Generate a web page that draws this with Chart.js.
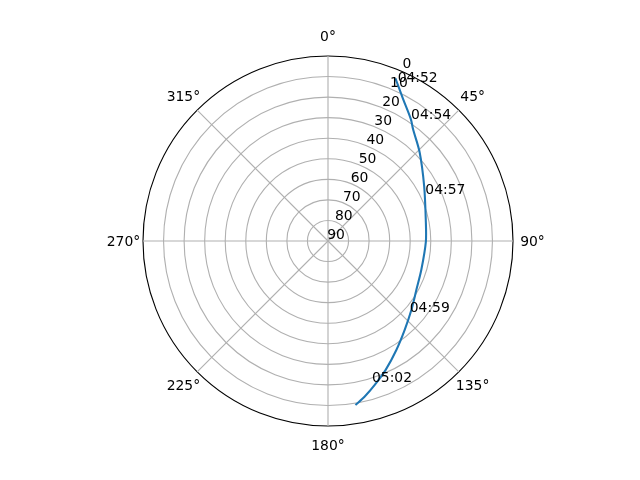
<!DOCTYPE html>
<html>
<head>
<meta charset="utf-8">
<script src="https://cdn.jsdelivr.net/npm/chart.js@4.4.1/dist/chart.umd.min.js"></script>
<style>
    html, body { margin: 0; padding: 0; background: #ffffff; }
    canvas { display: block; }
</style>
</head>
<body>
<canvas id="chartPasada" width="640" height="480"></canvas>
<script>
// rumbos del eje angular (N arriba, sentido horario)
const rumbos = ["0°", "45°", "90°", "135°", "180°", "225°", "270°", "315°"];

// trayectoria: azimut y elevación en grados
const azimut = [22.5, 27.9, 34.2, 37.3, 46.0, 60.2, 77.6, 90.5, 107.0, 118.8, 129.5, 139.2, 147.8, 155.9, 162.0, 166.8, 170.5];
const elevacion = [4.3, 11.9, 18.3, 21.7, 28.0, 36.1, 41.3, 42.4, 42.5, 40.9, 37.4, 32.9, 27.5, 21.3, 16.4, 12.2, 9.1];

// marcas de hora sobre la pasada
const horas = ["04:52", "04:54", "04:57", "04:59", "05:02"];
const horasAzimut = [23.7, 34.3, 64.4, 131.0, 162.7];
const horasElevacion = [5.7, 18.3, 37.5, 37.3, 18.1];

const FUENTE = '13.9px "DejaVu Sans"';

function aCartesiano(az, el) {
    const rad = az * Math.PI / 180;
    return { x: (90 - el) * Math.sin(rad), y: (90 - el) * Math.cos(rad) };
}

const etiquetasPolares = {
    id: "etiquetasPolares",
    afterDatasetsDraw(chart) {
        const ctx = chart.ctx;
        const r = chart.scales.r;
        const porPaso = 360 / rumbos.length;

        ctx.save();
        ctx.font = FUENTE;
        ctx.fillStyle = "#000000";
        ctx.textAlign = "center";
        ctx.textBaseline = "middle";

        rumbos.forEach((txt, i) => {
            const p = r.getPointPosition(i, r.drawingArea + 19.5);
            ctx.fillText(txt, p.x, p.y + 1);
        });

        // etiquetas radiales a 22.5°
        r.ticks.forEach(t => {
            const p = r.getPointPosition(22.5 / porPaso, r.getDistanceFromCenterForValue(t.value));
            ctx.fillText(t.label, p.x + 8, p.y - 6);
        });

        ctx.textAlign = "left";
        ctx.textBaseline = "alphabetic";
        horas.forEach((txt, i) => {
            const p = r.getPointPosition(horasAzimut[i] / porPaso, r.getDistanceFromCenterForValue(horasElevacion[i]));
            ctx.fillText(txt, p.x, p.y);
        });
        ctx.restore();
    }
};

Chart.defaults.font.family = "DejaVu Sans";

new Chart(document.getElementById("chartPasada"), {
    type: "scatter",
    data: {
        labels: rumbos,
        datasets: [{
            data: azimut.map((az, i) => aCartesiano(az, elevacion[i])),
            showLine: true,
            borderColor: "#1f77b4",
            borderWidth: 2.08,
            pointRadius: 0,
            tension: 0.3,
            fill: false
        }]
    },
    options: {
        responsive: false,
        animation: false,
        layout: { padding: { left: 143, top: 56, right: 127, bottom: 54 } },
        plugins: { legend: { display: false }, tooltip: { enabled: false } },
        scales: {
            x: { type: "linear", min: -90, max: 90, display: false },
            y: { type: "linear", min: -90, max: 90, display: false },
            r: {
                type: "radialLinear",
                min: 0,
                max: 90,
                reverse: true,
                startAngle: 0,
                ticks: { stepSize: 10, display: false },
                pointLabels: { display: false },
                angleLines: { color: "#b0b0b0", lineWidth: 1.11 },
                grid: {
                    circular: true,
                    color: c => c.tick && c.tick.value === 0 ? "#000000" : "#b0b0b0",
                    lineWidth: 1.11
                }
            }
        }
    },
    plugins: [etiquetasPolares]
});
</script>
</body>
</html>
